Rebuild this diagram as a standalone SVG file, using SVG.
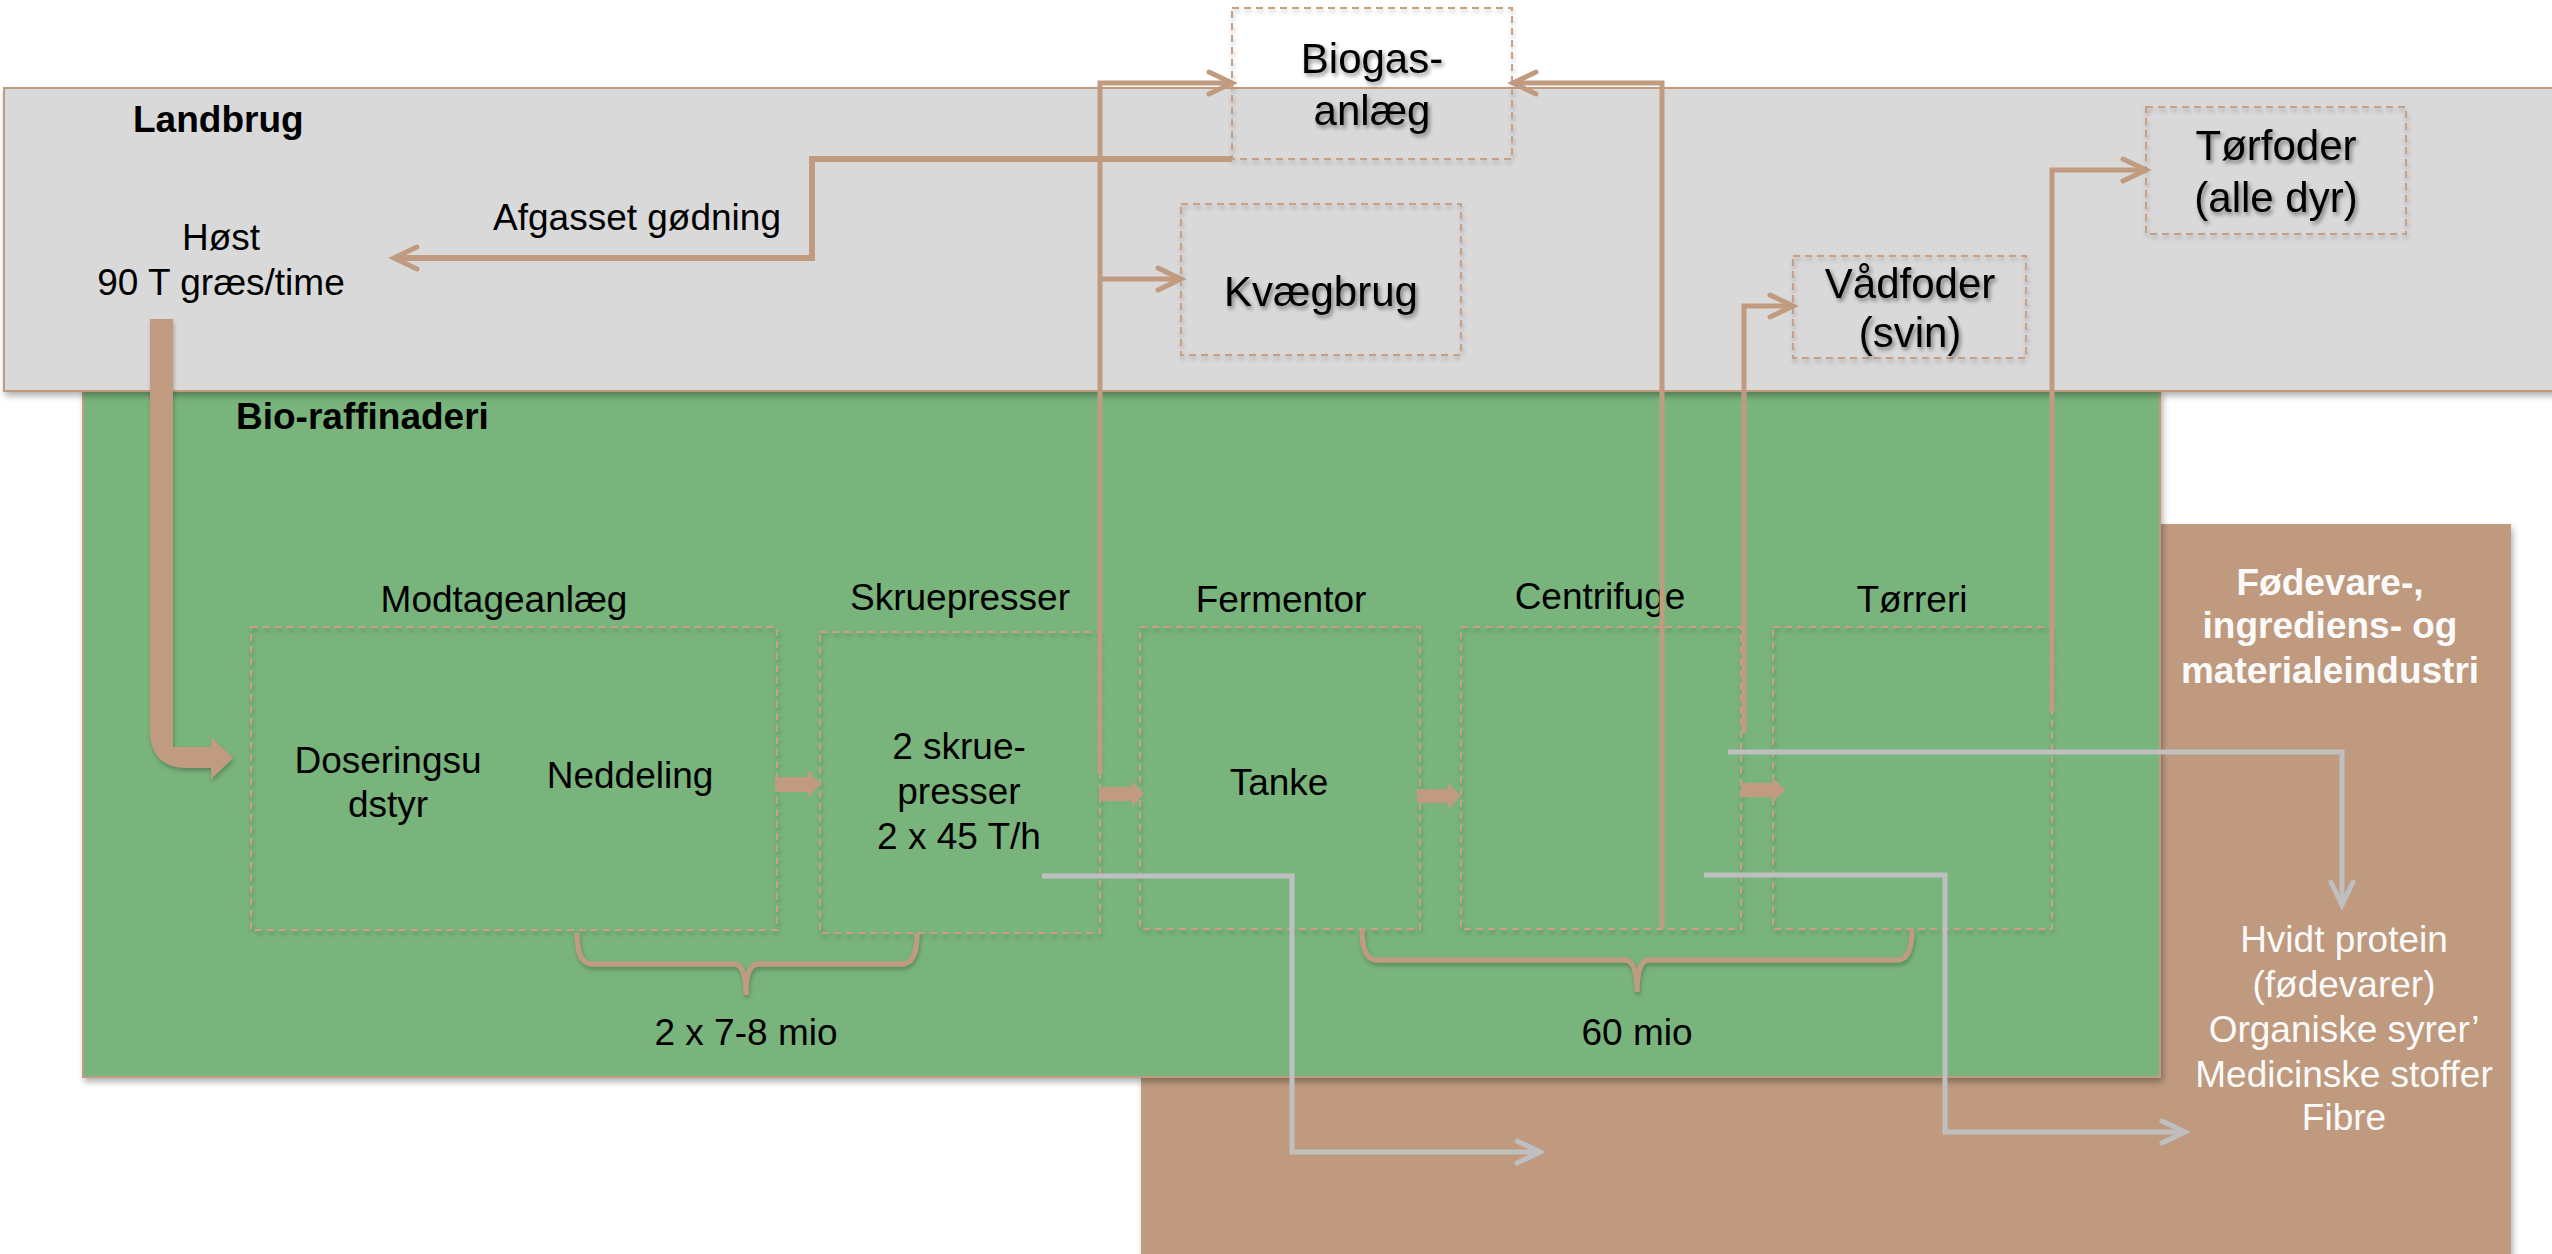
<svg xmlns="http://www.w3.org/2000/svg" width="2552" height="1254" viewBox="0 0 2552 1254">
<style>
.t{font-family:"Liberation Sans",Arial,Helvetica,sans-serif;font-size:37px;fill:#000;text-anchor:middle}
.b{font-weight:bold}
.s{text-anchor:start}
.big{font-size:42px;filter:url(#tsh)}
.w{fill:#fafafa}
.box{fill:none;stroke:#c9a084;stroke-width:2;stroke-dasharray:7 5;filter:url(#bsh)}
.con{fill:none;stroke:#c09b80;stroke-width:5}
.gcon{fill:none;stroke:#bfbfbf;stroke-width:5}
.blk{fill:#c09b80;stroke:none}
.area{stroke:#c09b80;stroke-width:2;filter:url(#sh)}
</style>
<defs>
<filter id="sh" x="-5%" y="-5%" width="110%" height="115%"><feDropShadow dx="2" dy="4" stdDeviation="3" flood-color="#000" flood-opacity="0.3"/></filter>
<filter id="bsh" x="-5%" y="-5%" width="110%" height="115%"><feDropShadow dx="1" dy="3" stdDeviation="2" flood-color="#000" flood-opacity="0.25"/></filter>
<filter id="tsh" x="-10%" y="-20%" width="120%" height="150%"><feDropShadow dx="2" dy="3" stdDeviation="2" flood-color="#000" flood-opacity="0.45"/></filter>
<marker id="ah" markerUnits="userSpaceOnUse" markerWidth="30" markerHeight="30" refX="21" refY="12" orient="auto" overflow="visible"><path d="M1,1 L24,12 L1,23" fill="none" stroke="#c09b80" stroke-width="5" stroke-linecap="round"/></marker>
<marker id="gh" markerUnits="userSpaceOnUse" markerWidth="30" markerHeight="30" refX="21" refY="12" orient="auto" overflow="visible"><path d="M1,1 L24,12 L1,23" fill="none" stroke="#bfbfbf" stroke-width="5" stroke-linecap="round"/></marker>
</defs>

<g id="areas">
<rect id="industri-area" class="area" x="1142" y="525" width="1368" height="740" fill="#bf9a7f"/>
<rect id="bioraffinaderi-area" class="area" x="83" y="391" width="2077" height="686" fill="#79b47b"/>
<rect id="landbrug-area" class="area" x="4" y="88" width="2560" height="303" fill="#d9d9d9"/>
</g>

<g id="labels">
<text class="t b s" x="133" y="132">Landbrug</text>
<text class="t b s" x="236" y="429">Bio-raffinaderi</text>
<text class="t" x="637" y="230">Afgasset gødning</text>
<text class="t" x="746" y="1045">2 x 7-8 mio</text>
<text class="t" x="1637" y="1045">60 mio</text>
</g>

<g id="node-host">
<text class="t" x="221" y="250">Høst</text>
<text class="t" x="221" y="295">90 T græs/time</text>
</g>

<g id="node-biogas">
<rect class="box" x="1232" y="8" width="280" height="151"/>
<text class="t big" x="1372" y="73">Biogas-</text>
<text class="t big" x="1372" y="125">anlæg</text>
</g>
<g id="node-kvaegbrug">
<rect class="box" x="1181" y="204" width="280" height="151"/>
<text class="t big" x="1321" y="306">Kvægbrug</text>
</g>
<g id="node-vadfoder">
<rect class="box" x="1793" y="256" width="233" height="102"/>
<text class="t big" x="1910" y="298">Vådfoder</text>
<text class="t big" x="1910" y="347">(svin)</text>
</g>
<g id="node-torfoder">
<rect class="box" x="2146" y="107" width="260" height="127"/>
<text class="t big" x="2276" y="160">Tørfoder</text>
<text class="t big" x="2276" y="212">(alle dyr)</text>
</g>

<g id="node-modtageanlaeg">
<text class="t" x="504" y="612">Modtageanlæg</text>
<rect class="box" x="251" y="627" width="526" height="303"/>
<text class="t" x="388" y="773">Doseringsu</text>
<text class="t" x="388" y="817">dstyr</text>
<text class="t" x="630" y="788">Neddeling</text>
</g>
<g id="node-skruepresser">
<text class="t" x="960" y="610">Skruepresser</text>
<rect class="box" x="820" y="632" width="280" height="301"/>
<text class="t" x="959" y="759">2 skrue-</text>
<text class="t" x="959" y="804">presser</text>
<text class="t" x="959" y="849">2 x 45 T/h</text>
</g>
<g id="node-fermentor">
<text class="t" x="1281" y="612">Fermentor</text>
<rect class="box" x="1140" y="627" width="280" height="302"/>
<text class="t" x="1279" y="795">Tanke</text>
</g>
<g id="node-centrifuge">
<text class="t" x="1600" y="609">Centrifuge</text>
<rect class="box" x="1461" y="627" width="280" height="302"/>
</g>
<g id="node-torreri">
<text class="t" x="1912" y="612">Tørreri</text>
<rect class="box" x="1773" y="627" width="279" height="302"/>
</g>

<g id="node-industri">
<text class="t b w" x="2330" y="595">Fødevare-,</text>
<text class="t b w" x="2330" y="638">ingrediens- og</text>
<text class="t b w" x="2330" y="683">materialeindustri</text>
</g>
<g id="node-produkter">
<text class="t w" x="2344" y="952">Hvidt protein</text>
<text class="t w" x="2344" y="997">(fødevarer)</text>
<text class="t w" x="2344" y="1042">Organiske syrer’</text>
<text class="t w" x="2344" y="1087">Medicinske stoffer</text>
<text class="t w" x="2344" y="1130">Fibre</text>
</g>

<g id="connectors">
<path class="blk" filter="url(#bsh)" d="M150,319 H173 V747 H211 V737 L233,758 L211,779 V768 H188 Q150,768 150,730 Z"/>
<path class="con" marker-end="url(#ah)" d="M1100,773 V83 H1229"/>
<path class="con" marker-end="url(#ah)" d="M1100,279 H1178"/>
<path class="con" marker-end="url(#ah)" d="M1662,928 V83 H1516"/>
<path class="con" style="stroke-width:6" marker-end="url(#ah)" d="M1232,159 H812 V258 H397"/>
<path class="con" marker-end="url(#ah)" d="M1744,733 V306 H1790"/>
<path class="con" marker-end="url(#ah)" d="M2052,712 V170 H2143"/>
<path class="blk" d="M775,777 H808 V771 L821,784 L808,797 V792 H775 Z"/>
<path class="blk" d="M1099,787 H1132 V781 L1144,794 L1132,807 V801 H1099 Z"/>
<path class="blk" d="M1417,789 H1448 V783 L1461,796 L1448,809 V803 H1417 Z"/>
<path class="blk" d="M1741,783 H1772 V777 L1785,790 L1772,803 V797 H1741 Z"/>
<path class="gcon" marker-end="url(#gh)" d="M1042,876 H1292 V1152 H1537"/>
<path class="gcon" marker-end="url(#gh)" d="M1728,752 H2342 V902"/>
<path class="gcon" marker-end="url(#gh)" d="M1704,875 H1945 V1132 H2182"/>
<path class="con" filter="url(#bsh)" d="M577,933 Q577,964 592,964 H734 Q746,964 746,995 Q746,964 758,964 H902 Q917,964 917,933"/>
<path class="con" filter="url(#bsh)" d="M1362,930 Q1362,960 1377,960 H1625 Q1637,960 1637,992 Q1637,960 1649,960 H1897 Q1912,960 1912,930"/>
</g>
</svg>
